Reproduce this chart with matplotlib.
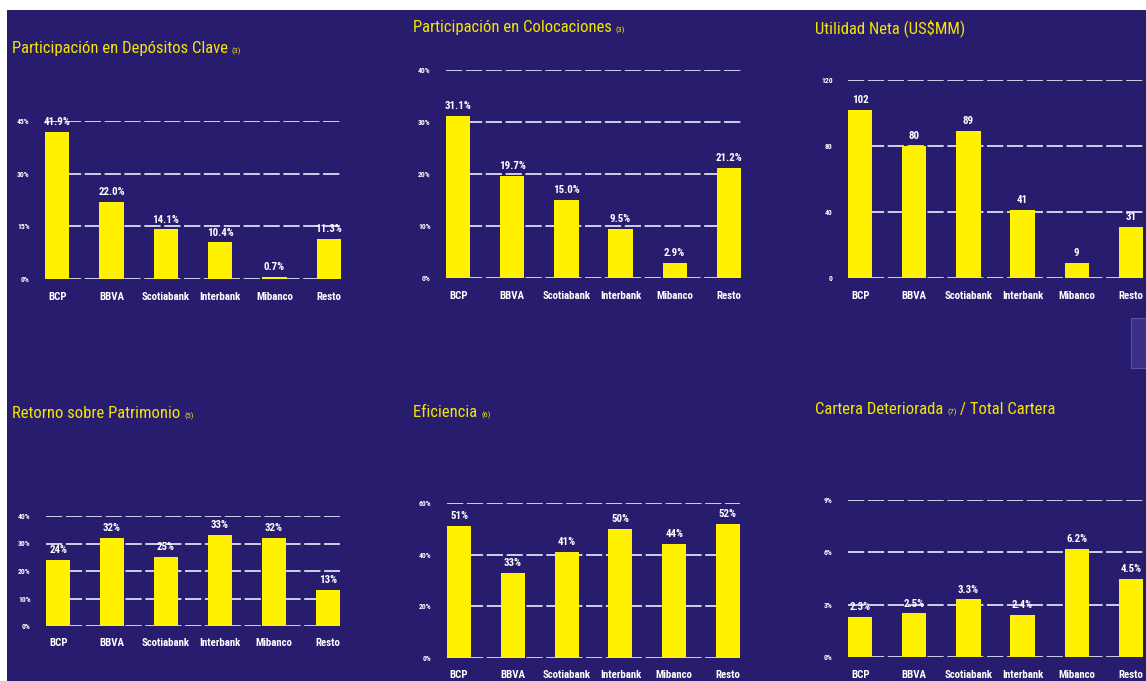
import matplotlib
matplotlib.use("Agg")
import matplotlib.pyplot as plt
from matplotlib import font_manager
from matplotlib.patches import Rectangle

# ---------------- data ----------------
banks = ["BCP", "BBVA", "Scotiabank", "Interbank", "Mibanco", "Resto"]

depositos = [41.9, 22.0, 14.1, 10.4, 0.7, 11.3]
colocaciones = [31.1, 19.7, 15.0, 9.5, 2.9, 21.2]
utilidad = [102, 80, 89, 41, 9, 31]
roe = [24, 32, 25, 33, 32, 13]
eficiencia = [51, 33, 41, 50, 44, 52]
cartera = [2.3, 2.5, 3.3, 2.4, 6.2, 4.5]

ticks_depositos = [0, 15, 30, 45]
ticks_colocaciones = [0, 10, 20, 30, 40]
ticks_utilidad = [0, 40, 80, 120]
ticks_roe = [0, 10, 20, 30, 40]
ticks_eficiencia = [0, 20, 40, 60]
ticks_cartera = [0, 3, 6, 9]

titles = [
    ["Participación en Depósitos Clave ", "(3)"],
    ["Participación en Colocaciones ", "(3)"],
    ["Utilidad Neta (US$MM)"],
    ["Retorno sobre Patrimonio ", "(5)"],
    ["Eficiencia ", "(6)"],
    ["Cartera Deteriorada ", "(7)", " / Total Cartera"],
]

# ---------------- style ----------------
W, H = 1146, 681
BG = "#271c6e"
YELLOW = "#fff200"
TITLE_YELLOW = "#f4e600"

available = {f.name for f in font_manager.fontManager.ttflist}
pref = [n for n in ["Liberation Sans Narrow", "Roboto Condensed", "Roboto", "Liberation Sans"]
        if n in available]
FAM = pref[:1] + ["DejaVu Sans"]

fig = plt.figure(figsize=(W / 100, H / 100), dpi=100)
fig.patch.set_facecolor(BG)

# white border strips (scan edges)
fig.patches.append(Rectangle((0, 1 - 10 / H), 1, 10 / H, transform=fig.transFigure,
                             facecolor="white", edgecolor="none", zorder=5))
fig.patches.append(Rectangle((0, 0), 7 / W, 1, transform=fig.transFigure,
                             facecolor="white", edgecolor="none", zorder=5))
fig.patches.append(Rectangle((1131 / W, 1 - 368 / H), 15 / W, 50 / H, transform=fig.transFigure,
                             facecolor="#3a3088", edgecolor="#5a50a8", lw=0.8, zorder=5))

# panel pixel geometry: left, right, top (max tick), baseline
panels = [
    (45, 341, 121, 279, depositos, ticks_depositos, "{:.1f}%", "{:d}%"),
    (446, 741, 70, 278, colocaciones, ticks_colocaciones, "{:.1f}%", "{:d}%"),
    (848, 1143, 80, 278, utilidad, ticks_utilidad, "{:d}", "{:d}"),
    (46, 340, 516, 626, roe, ticks_roe, "{:d}%", "{:d}%"),
    (447, 740, 503, 658, eficiencia, ticks_eficiencia, "{:d}%", "{:d}%"),
    (848, 1143, 500, 657, cartera, ticks_cartera, "{:.1f}%", "{:d}%"),
]
title_pos = [(12, 53), (413, 32), (815, 33), (12, 418), (413, 417), (815, 414)]

x = list(range(len(banks)))
for (l, r, t, b, vals, ticks, vfmt, tfmt) in panels:
    ax = fig.add_axes([l / W, 1 - b / H, (r - l) / W, (b - t) / H])
    ax.set_facecolor("none")
    ax.set_xlim(-0.225, len(banks) - 1 + 0.225)
    ax.set_ylim(0, ticks[-1])
    for tk in ticks:
        ax.axhline(tk, color="#eef4ff", lw=1.3, ls=(0, (9, 2)), zorder=1, alpha=0.9)
    ax.bar(x, vals, width=0.45, color=YELLOW, zorder=3)
    for xi, v in zip(x, vals):
        ax.annotate(vfmt.format(v), (xi, v), xytext=(0, 3.5), textcoords="offset points",
                    ha="center", va="bottom", color="white", fontsize=7.8,
                    fontweight="bold", family=FAM, annotation_clip=False, zorder=4)
    ax.set_xticks(x)
    ax.set_xticklabels(banks, color="white", fontsize=7.8, fontweight="bold", family=FAM)
    ax.set_yticks(ticks)
    ax.set_yticklabels([tfmt.format(tk) for tk in ticks], color="white", fontsize=5.5,
                       fontweight="bold", family=FAM)
    ax.tick_params(axis="x", length=0, pad=9)
    ax.tick_params(axis="y", length=0, pad=11)
    for s in ax.spines.values():
        s.set_visible(False)

# titles with small footnote marks
fig.canvas.draw()
renderer = fig.canvas.get_renderer()
for parts, (tx, ty) in zip(titles, title_pos):
    cur = tx
    for p in parts:
        small = p.startswith("(") and len(p) == 3
        txt = fig.text(cur / W, 1 - ty / H, p, color=TITLE_YELLOW,
                       fontsize=6 if small else 12, family=FAM, ha="left",
                       va="baseline", parse_math=False)
        ext = txt.get_window_extent(renderer)
        cur += ext.width

fig.savefig("out.png", dpi=100, facecolor=fig.get_facecolor())
